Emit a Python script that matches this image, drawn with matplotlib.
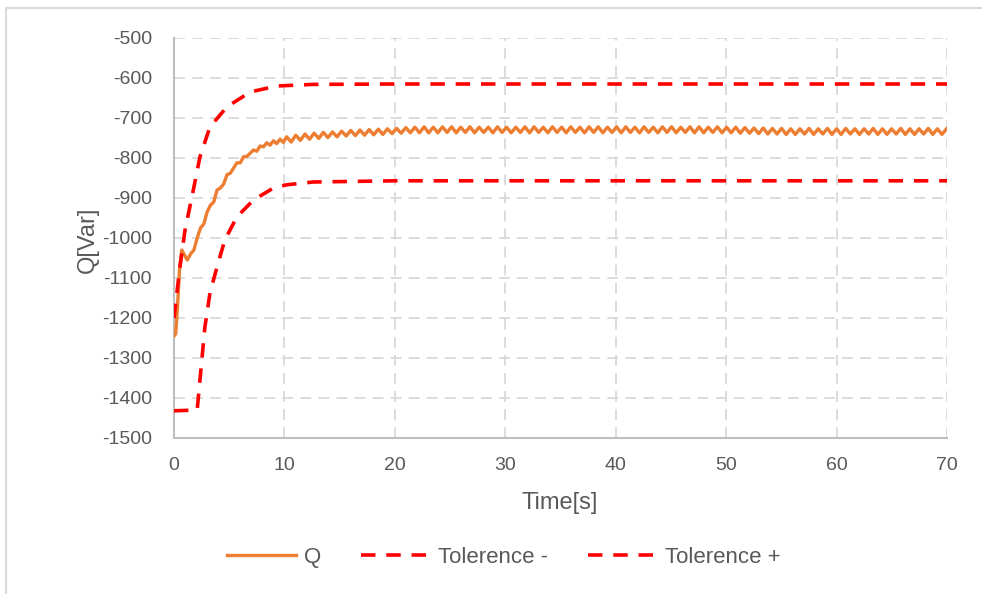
import numpy as np
import matplotlib.pyplot as plt
from matplotlib.patches import Rectangle

plt.rcParams['font.family'] = ['Liberation Sans Narrow', 'Liberation Sans', 'DejaVu Sans']
plt.rcParams['axes.unicode_minus'] = False

# --- donnees ---
# Q : partie transitoire (temps, valeur)
t_q_start = [0.0, 0.15, 0.3, 0.5, 0.7, 0.9, 1.2, 1.5, 1.8, 2.1, 2.4, 2.7, 3.0, 3.3,
             3.6, 3.9, 4.2, 4.5, 4.8, 5.1, 5.4, 5.7, 6.0, 6.3, 6.6, 6.9, 7.2, 7.5,
             7.8, 8.1, 8.4, 8.7, 9.0, 9.3, 9.6, 9.9]
q_start = [-1245, -1240, -1180, -1080, -1030, -1040, -1055, -1040, -1030, -1000, -975,
           -965, -935, -918, -910, -880, -875, -865, -842, -838, -825, -812, -812,
           -797, -796, -788, -780, -783, -770, -772, -762, -768, -757, -764, -753, -761]

# Q : regime etabli, un point par demi-periode d'oscillation (pics / creux)
dt_osc = 0.415
t_osc0 = 10.2
q_osc = [
    -747, -760, -743, -756, -740, -753, -738, -751, -736, -749,
    -735, -747, -733, -745, -731, -744, -730, -743, -729, -742,
    -728, -741, -727, -739, -726, -738, -724, -737, -723, -737,
    -722, -737, -723, -737, -722, -736, -722, -737, -723, -736,
    -722, -737, -723, -736, -723, -737, -722, -736, -723, -737,
    -723, -736, -722, -737, -722, -736, -723, -737, -722, -736,
    -723, -737, -722, -736, -723, -737, -722, -736, -722, -737,
    -723, -736, -722, -737, -722, -736, -723, -737, -722, -736,
    -723, -737, -722, -736, -722, -737, -723, -736, -722, -737,
    -722, -737, -723, -736, -722, -737, -723, -737, -723, -738,
    -724, -738, -725, -739, -725, -740, -726, -740, -726, -741,
    -727, -741, -727, -740, -726, -741, -727, -740, -726, -741,
    -727, -741, -726, -740, -727, -741, -727, -740, -726, -741,
    -727, -741, -727, -740, -726, -741, -727, -741, -727, -740,
    -726, -741, -727, -741, -727,
]

# tolerance haute ("Tolerence +")
t_tol_plus = [0.0, 0.5, 1.0, 1.7, 2.35, 3.26, 4.8, 6.9, 9.3, 12.6, 20, 70]
tol_plus = [-1200, -1080, -980, -887, -797, -722, -672, -635, -620, -616, -615, -615]

# tolerance basse ("Tolerence -")
t_tol_minus = [0.0, 2.1, 2.35, 2.8, 3.26, 3.9, 4.6, 5.7, 7.2, 9.0, 10.2, 12.6, 20, 70]
tol_minus = [-1432, -1430, -1355, -1222, -1137, -1072, -1005, -947, -905, -875, -867,
             -860, -857, -857]

# assemblage de Q
t_q = np.concatenate([t_q_start, t_osc0 + dt_osc * np.arange(len(q_osc))])
q = np.concatenate([q_start, q_osc])

grey_txt = '#595959'
fig = plt.figure(figsize=(9.82, 5.94), dpi=100)
ax = fig.add_axes([174/982, 1 - 438/594, (947 - 174)/982, 400/594])

# cadre du graphique (style Excel)
fig.patches.append(Rectangle((6/982, -0.5), 1.5, 1.5 - 8/594, transform=fig.transFigure,
                             fill=False, edgecolor='#d9d9d9', linewidth=1.5))

ax.plot(t_q, q, color='#ed7d31', linewidth=2.4, label='Q', zorder=3)
ax.plot(t_tol_minus, tol_minus, color='#ff0000', linewidth=2.6, linestyle=(0, (4, 3)),
        label='Tolerence -', zorder=4)
ax.plot(t_tol_plus, tol_plus, color='#ff0000', linewidth=2.6, linestyle=(0, (4, 3)),
        label='Tolerence +', zorder=4)

ax.set_xlim(0, 70)
ax.set_ylim(-1500, -500)
ax.set_xticks(np.arange(0, 71, 10))
ax.set_yticks(np.arange(-1500, -499, 100))
ax.grid(True, color='#d9d9d9', linestyle=(0, (6, 4)), linewidth=1.3, zorder=0)
ax.set_axisbelow(True)

for s in ['top', 'right']:
    ax.spines[s].set_visible(False)
for s in ['left', 'bottom']:
    ax.spines[s].set_color('#bfbfbf')
    ax.spines[s].set_linewidth(1.5)

ax.tick_params(length=0, labelsize=14, colors=grey_txt)
ax.tick_params(axis='x', pad=14)
ax.tick_params(axis='y', pad=16)
ax.set_xlabel('Time[s]', fontsize=17, color=grey_txt)
ax.set_ylabel('Q[Var]', fontsize=17, color=grey_txt)
ax.xaxis.set_label_coords(0.4994, -0.1625)
ax.yaxis.set_label_coords(-0.112, 0.495)
ax.xaxis.label.set_va('center')
ax.yaxis.label.set_va('center')

fig.legend(loc='center', bbox_to_anchor=(0.513, 0.062), ncol=3, frameon=False,
           fontsize=16, labelcolor=grey_txt, handlelength=3.1, columnspacing=1.8,
           handletextpad=0.35)

fig.savefig('out.png', dpi=100)
